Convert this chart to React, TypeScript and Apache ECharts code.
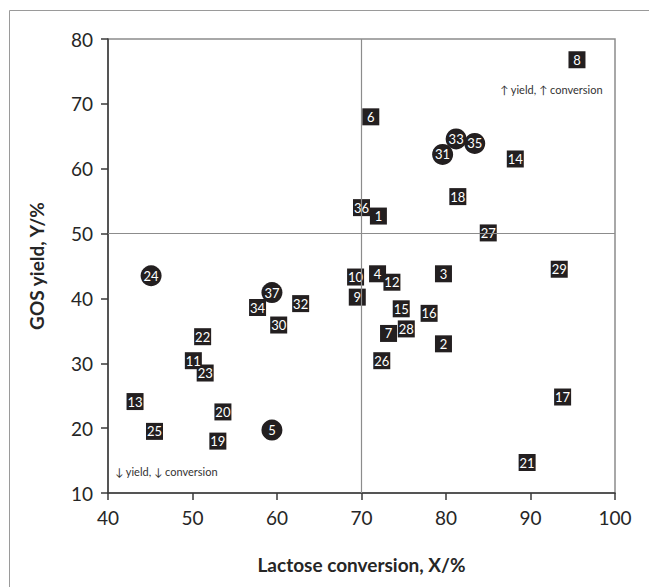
import React, { useEffect, useRef } from "react";
import * as echarts from "echarts";

const xTicks = [40, 50, 60, 70, 80, 90, 100];
const yTicks = [10, 20, 30, 40, 50, 60, 70, 80];

// [conversion X, yield Y, run number]
const squarePoints: [number, number, number][] = [
  [72.0, 52.7, 1],
  [79.7, 33.0, 2],
  [79.7, 43.8, 3],
  [71.9, 43.8, 4],
  [71.1, 68.0, 6],
  [73.2, 34.6, 7],
  [95.5, 76.8, 8],
  [69.5, 40.2, 9],
  [69.3, 43.3, 10],
  [50.1, 30.4, 11],
  [73.6, 42.5, 12],
  [43.2, 24.1, 13],
  [88.2, 61.5, 14],
  [74.7, 38.4, 15],
  [78.0, 37.7, 16],
  [93.8, 24.8, 17],
  [81.4, 55.7, 18],
  [53.0, 18.0, 19],
  [53.6, 22.5, 20],
  [89.6, 14.7, 21],
  [51.2, 34.1, 22],
  [51.5, 28.5, 23],
  [45.5, 19.5, 25],
  [72.4, 30.4, 26],
  [85.0, 50.1, 27],
  [75.3, 35.3, 28],
  [93.4, 44.5, 29],
  [60.2, 35.9, 30],
  [62.8, 39.2, 32],
  [57.7, 38.6, 34],
  [70.0, 54.0, 36],
];

const circlePoints: [number, number, number][] = [
  [59.4, 19.7, 5],
  [45.1, 43.5, 24],
  [79.6, 62.2, 31],
  [81.2, 64.6, 33],
  [83.4, 63.9, 35],
  [59.4, 40.9, 37],
];

const dividerX = 70;
const dividerY = 50;
const annotations = ["↑ yield, ↑ conversion", "↓ yield, ↓ conversion"];

export default function App() {
  const ref = useRef<HTMLDivElement>(null);
  useEffect(() => {
    document.body.style.margin = "0";
    const chart = echarts.init(ref.current!, null, { renderer: "svg" });
    const font = "Lato, 'Open Sans', sans-serif";
    const markerLabel = {
      show: true,
      position: "inside",
      formatter: (p: any) => String(p.value[2]),
      color: "#ffffff",
      fontSize: 13,
      fontFamily: font,
    };
    chart.setOption({
      animation: false,
      backgroundColor: "#ffffff",
      grid: {
        left: 108,
        top: 39,
        width: 507,
        height: 454,
        show: true,
        borderColor: "#8c8c8c",
        borderWidth: 1.5,
        backgroundColor: "transparent",
      },
      xAxis: {
        type: "value",
        min: 40,
        max: 100,
        interval: 10,
        name: "Lactose conversion, X/%",
        nameLocation: "middle",
        nameGap: 62,
        nameTextStyle: { fontFamily: font, fontSize: 19, fontWeight: "bold", color: "#262626" },
        axisLine: { show: true, onZero: false, lineStyle: { color: "#3a3a3a", width: 1.5 } },
        axisTick: { show: true, inside: false, length: 7, lineStyle: { color: "#3a3a3a", width: 1.5 } },
        axisLabel: {
          margin: 15,
          fontFamily: font,
          fontSize: 19,
          color: "#262626",
          formatter: (v: number) => (xTicks.includes(v) ? String(v) : ""),
        },
        splitLine: { show: false },
      },
      yAxis: {
        type: "value",
        min: 10,
        max: 80,
        interval: 10,
        name: "GOS yield, Y/%",
        nameLocation: "middle",
        nameGap: 62,
        nameRotate: 90,
        nameTextStyle: { fontFamily: font, fontSize: 19, fontWeight: "bold", color: "#262626" },
        axisLine: { show: true, onZero: false, lineStyle: { color: "#3a3a3a", width: 1.5 } },
        axisTick: { show: true, inside: false, length: 7, lineStyle: { color: "#3a3a3a", width: 1.5 } },
        axisLabel: {
          margin: 15,
          fontFamily: font,
          fontSize: 19,
          color: "#262626",
          formatter: (v: number) => (yTicks.includes(v) ? String(v) : ""),
        },
        splitLine: { show: false },
      },
      graphic: [
        {
          type: "rect",
          shape: { x: 9.5, y: 10.5, width: 800, height: 800 },
          style: { fill: "none", stroke: "#9a9a9a", lineWidth: 1 },
          silent: true,
        },
        {
          type: "text",
          x: 500,
          y: 84,
          style: { text: annotations[0], fill: "#333333", fontSize: 11, fontFamily: font },
        },
        {
          type: "text",
          x: 115,
          y: 466,
          style: { text: annotations[1], fill: "#333333", fontSize: 11, fontFamily: font },
        },
      ],
      series: [
        {
          type: "scatter",
          name: "lines",
          data: [],
          markLine: {
            silent: true,
            symbol: "none",
            label: { show: false },
            lineStyle: { color: "#8c8c8c", width: 1.2, type: "solid" },
            data: [{ xAxis: dividerX }, { yAxis: dividerY }],
          },
        },
        {
          type: "scatter",
          symbol: "rect",
          symbolSize: [17, 17],
          itemStyle: { color: "#231f20", opacity: 1 },
          label: markerLabel,
          data: squarePoints,
          z: 3,
        },
        {
          type: "scatter",
          symbol: "circle",
          symbolSize: 21,
          itemStyle: { color: "#231f20", opacity: 1 },
          label: markerLabel,
          data: circlePoints,
          z: 4,
        },
      ],
    });
    return () => chart.dispose();
  }, []);
  return <div ref={ref} style={{ width: 649, height: 587 }} />;
}
